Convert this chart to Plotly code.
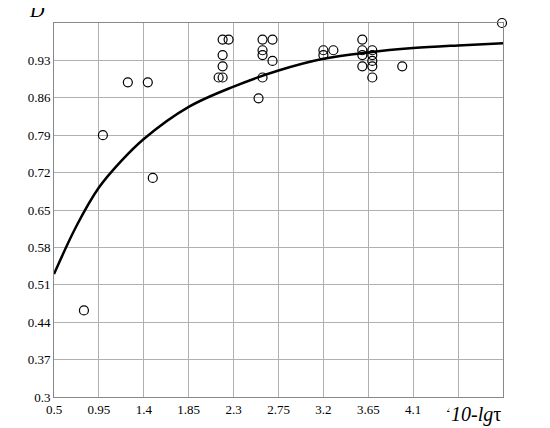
import plotly.graph_objects as go

x_pts = [0.80, 0.99, 1.24, 1.44, 1.49,
         2.15, 2.19, 2.19, 2.19, 2.19, 2.25,
         2.55, 2.59, 2.59, 2.59, 2.59, 2.69, 2.69,
         3.20, 3.20, 3.30,
         3.59, 3.59, 3.59, 3.59,
         3.69, 3.69, 3.69, 3.69, 3.69,
         3.99, 4.99]
y_pts = [0.462, 0.79, 0.889, 0.889, 0.71,
         0.898, 0.898, 0.919, 0.940, 0.969, 0.969,
         0.859, 0.898, 0.940, 0.949, 0.969, 0.969, 0.929,
         0.949, 0.940, 0.949,
         0.969, 0.949, 0.940, 0.919,
         0.949, 0.940, 0.929, 0.919, 0.898,
         0.919, 1.0]
curve_x = [0.5, 0.725, 0.95, 1.175, 1.4, 1.85, 2.3, 2.75, 3.2, 3.65, 4.1, 4.55, 5.0]
curve_y = [0.53, 0.62, 0.692, 0.742, 0.783, 0.843, 0.881, 0.911, 0.933, 0.945, 0.953, 0.958, 0.962]
x_ticks = [0.5, 0.95, 1.4, 1.85, 2.3, 2.75, 3.2, 3.65, 4.1, 4.55]
y_ticks = [0.3, 0.37, 0.44, 0.51, 0.58, 0.65, 0.72, 0.79, 0.86, 0.93]

fig = go.Figure()
fig.add_trace(go.Scatter(x=curve_x, y=curve_y, mode="lines",
                         line=dict(color="black", width=2.5, shape="spline", smoothing=1.0), hoverinfo="skip"))
fig.add_trace(go.Scatter(x=x_pts, y=y_pts, mode="markers", cliponaxis=False,
                         marker=dict(symbol="circle-open", size=9, color="black", line=dict(width=1.2))))
font = dict(family="Liberation Serif, Times New Roman, serif", size=13, color="black")
fig.update_layout(width=550, height=428, margin=dict(l=46, r=55, t=15, b=39),
                  plot_bgcolor="white", paper_bgcolor="white", showlegend=False, font=font)
fig.update_xaxes(range=[0.5, 5.0], tickvals=x_ticks, ticktext=[str(v) for v in x_ticks],
                 showgrid=True, gridcolor="#b0b0b0", gridwidth=1, showline=True, linecolor="#888",
                 mirror=True, zeroline=False, ticks="", tickfont=dict(size=13))
fig.update_yaxes(range=[0.3, 1.0], tickvals=y_ticks + [1.0], ticktext=[str(v) for v in y_ticks] + [""],
                 showgrid=True, gridcolor="#b0b0b0", gridwidth=1, showline=True, linecolor="#888",
                 mirror=True, zeroline=False, ticks="", tickfont=dict(size=13))
fig.add_annotation(text="<i>D</i>", xref="paper", yref="paper", x=-0.015, y=1.0,
                   xanchor="right", yanchor="bottom", showarrow=False, font=dict(size=20))
fig.add_annotation(text="<i>10-lg</i>τ", xref="paper", yref="paper", x=1.0, y=-0.01,
                   xanchor="right", yanchor="top", showarrow=False, font=dict(size=20),
                   bgcolor="white")
fig.write_html("out.html")
